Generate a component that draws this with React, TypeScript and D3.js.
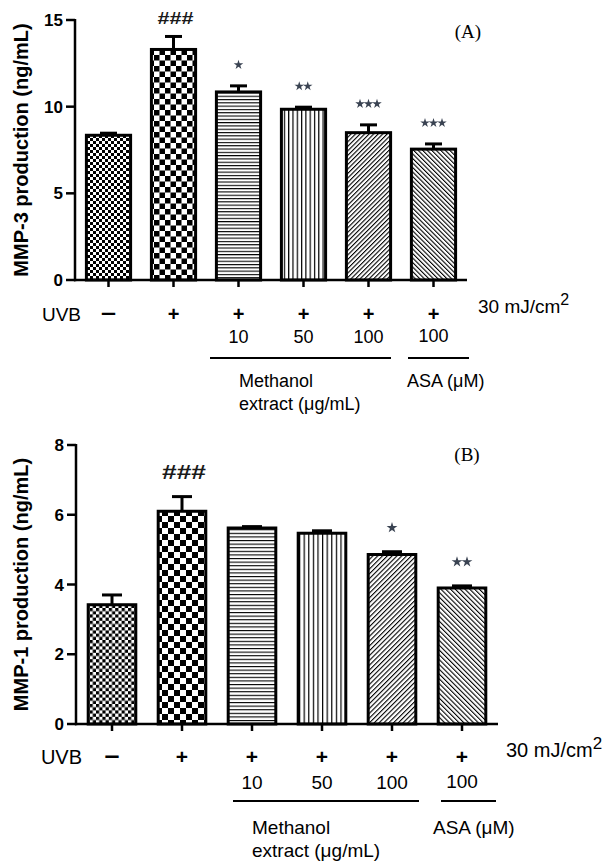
import React from "react";
import * as d3 from "d3";

// ---------- data ----------
const groups = ["Control", "UVB", "ME10", "ME50", "ME100", "ASA100"];
const uvbSigns = ["–", "+", "+", "+", "+", "+"];
const doseLabels = ["", "", "10", "50", "100", "100"];

const mmp3Values = [8.35, 13.3, 10.85, 9.85, 8.5, 7.55];
const mmp3Errors = [0.12, 0.75, 0.35, 0.12, 0.45, 0.3];
const mmp3Marks = ["", "###", "*", "**", "***", "***"];
const mmp3Ticks = [0, 5, 10, 15];

const mmp1Values = [3.42, 6.1, 5.62, 5.47, 4.86, 3.9];
const mmp1Errors = [0.28, 0.42, 0.04, 0.07, 0.08, 0.06];
const mmp1Marks = ["", "###", "", "", "*", "**"];
const mmp1Ticks = [0, 2, 4, 6, 8];

// ---------- layout ----------
type Cfg = {
  id: string;
  x0: number; x1: number; yTop: number; yBase: number; yMax: number;
  ticks: number[]; values: number[]; errors: number[]; marks: string[];
  yLabel: string; letter: string; letterX: number; letterY: number;
  fs: number; tickFs: number; labFs: number;
  capW: number; fine: number; coarse: number; hs: number; vs: number; ds: number;
  hashOff: number; hashW: number; hashFs: number; starOff: number; starSize: number; starGap: number;
  signDy: number; doseDy: number; lineDy: number; methDy: number; extDy: number; mjDy: number;
  methLine: [number, number]; asaLine: [number, number]; methX: number; asaX: number; mjX: number;
};

const cfgA: Cfg = {
  id: "a", x0: 75, x1: 467, yTop: 20, yBase: 280, yMax: 15,
  ticks: mmp3Ticks, values: mmp3Values, errors: mmp3Errors, marks: mmp3Marks,
  yLabel: "MMP-3 production (ng/mL)", letter: "(A)", letterX: 468, letterY: 38,
  fs: 18, tickFs: 17, labFs: 20,
  capW: 17, fine: 3, coarse: 5.5, hs: 3.3, vs: 4.3, ds: 3.2,
  hashOff: 12, hashW: 36, hashFs: 17, starOff: 21, starSize: 28, starGap: 8.5,
  signDy: 41, doseDy: 63, lineDy: 78, methDy: 107, extDy: 130, mjDy: 33,
  methLine: [210, 391], asaLine: [408, 469], methX: 239, asaX: 407, mjX: 478,
};

const cfgB: Cfg = {
  id: "b", x0: 76, x1: 498, yTop: 445, yBase: 724, yMax: 8,
  ticks: mmp1Ticks, values: mmp1Values, errors: mmp1Errors, marks: mmp1Marks,
  yLabel: "MMP-1 production (ng/mL)", letter: "(B)", letterX: 467, letterY: 461,
  fs: 19, tickFs: 17, labFs: 20,
  capW: 20, fine: 3.2, coarse: 6, hs: 3.6, vs: 4.6, ds: 3.4,
  hashOff: 18, hashW: 44, hashFs: 21, starOff: 24, starSize: 36, starGap: 10,
  signDy: 40, doseDy: 65, lineDy: 77, methDy: 110, extDy: 133, mjDy: 33,
  methLine: [233, 419], asaLine: [441, 496], methX: 252, asaX: 433, mjX: 506,
};

const SANS = "'Liberation Sans', Arial, Helvetica, sans-serif";
const SERIF = "'Liberation Serif', 'Times New Roman', serif";

function Patterns({ c }: { c: Cfg }) {
  const p = (i: number) => `${c.id}-p${i}`;
  return (
    <defs>
      <pattern id={p(0)} patternUnits="userSpaceOnUse" width={2 * c.fine} height={2 * c.fine}>
        <rect width={2 * c.fine} height={2 * c.fine} fill="#fff" />
        <rect width={c.fine} height={c.fine} fill="#000" />
        <rect x={c.fine} y={c.fine} width={c.fine} height={c.fine} fill="#000" />
      </pattern>
      <pattern id={p(1)} patternUnits="userSpaceOnUse" width={2 * c.coarse} height={2 * c.coarse}>
        <rect width={2 * c.coarse} height={2 * c.coarse} fill="#fff" />
        <rect width={c.coarse} height={c.coarse} fill="#000" />
        <rect x={c.coarse} y={c.coarse} width={c.coarse} height={c.coarse} fill="#000" />
      </pattern>
      <pattern id={p(2)} patternUnits="userSpaceOnUse" width={10} height={c.hs}>
        <rect width={10} height={c.hs} fill="#fff" />
        <rect width={10} height={1.1} fill="#000" />
      </pattern>
      <pattern id={p(3)} patternUnits="userSpaceOnUse" width={c.vs} height={10}>
        <rect width={c.vs} height={10} fill="#fff" />
        <rect width={1.2} height={10} fill="#000" />
      </pattern>
      <pattern id={p(4)} patternUnits="userSpaceOnUse" width={c.ds} height={c.ds} patternTransform="rotate(45)">
        <rect width={c.ds} height={c.ds} fill="#fff" />
        <rect width={1.1} height={c.ds} fill="#000" />
      </pattern>
      <pattern id={p(5)} patternUnits="userSpaceOnUse" width={c.ds} height={c.ds} patternTransform="rotate(-45)">
        <rect width={c.ds} height={c.ds} fill="#fff" />
        <rect width={1.1} height={c.ds} fill="#000" />
      </pattern>
    </defs>
  );
}

function Panel({ c }: { c: Cfg }) {
  const x = d3
    .scaleBand<string>()
    .domain(groups)
    .range([c.x0 + 1, c.x1 - 1])
    .paddingInner(0.32)
    .paddingOuter(0.16);
  const y = d3.scaleLinear().domain([0, c.yMax]).range([c.yBase, c.yTop]);
  const bw = x.bandwidth();
  const cx = (g: string) => (x(g) as number) + bw / 2;
  const star = d3.symbol().type(d3.symbolStar).size(c.starSize)() as string;
  const base = c.yBase;

  return (
    <g>
      <Patterns c={c} />
      {/* bars */}
      {groups.map((g, i) => (
        <rect
          key={g}
          x={x(g)}
          y={y(c.values[i])}
          width={bw}
          height={y(0) - y(c.values[i])}
          fill={`url(#${c.id}-p${i})`}
          stroke="#000"
          strokeWidth={3}
        />
      ))}
      {/* error bars */}
      {groups.map((g, i) => {
        const top = y(c.values[i] + c.errors[i]);
        return (
          <g key={g} stroke="#000" strokeWidth={3}>
            <line x1={cx(g)} x2={cx(g)} y1={y(c.values[i])} y2={top} />
            <line x1={cx(g) - c.capW / 2} x2={cx(g) + c.capW / 2} y1={top} y2={top} />
          </g>
        );
      })}
      {/* significance marks */}
      {groups.map((g, i) => {
        const m = c.marks[i];
        if (!m) return null;
        const top = y(c.values[i] + c.errors[i]);
        if (m.startsWith("#")) {
          return (
            <text
              key={g}
              x={cx(g) + 2}
              y={top - c.hashOff}
              textAnchor="middle"
              fontFamily={SANS}
              fontSize={c.hashFs}
              fontWeight="bold"
              textLength={c.hashW}
              lengthAdjust="spacingAndGlyphs"
              fill="#1a1a1a"
            >
              {m}
            </text>
          );
        }
        const n = m.length;
        return (
          <g key={g} fill="#3a4352">
            {d3.range(n).map((k) => (
              <path
                key={k}
                d={star}
                transform={`translate(${cx(g) + (k - (n - 1) / 2) * c.starGap},${top - c.starOff})`}
              />
            ))}
          </g>
        );
      })}
      {/* axes */}
      <g stroke="#000" strokeWidth={2.5} fill="none">
        <line x1={c.x0} x2={c.x0} y1={y(c.yMax) - 1} y2={base + 1.25} />
        <line x1={c.x0 - 1} x2={c.x1} y1={base} y2={base} />
        {c.ticks.map((t) => (
          <line key={t} x1={c.x0 - 9} x2={c.x0} y1={y(t)} y2={y(t)} />
        ))}
        {groups.map((g) => (
          <line key={g} x1={cx(g)} x2={cx(g)} y1={base} y2={base + 7} />
        ))}
      </g>
      {c.ticks.map((t) => (
        <text
          key={t}
          x={c.x0 - 12}
          y={y(t) + 6}
          textAnchor="end"
          fontFamily={SANS}
          fontWeight="bold"
          fontSize={c.tickFs}
        >
          {t}
        </text>
      ))}
      <text
        transform={`translate(28,${(c.yTop + c.yBase) / 2}) rotate(-90)`}
        textAnchor="middle"
        fontFamily={SANS}
        fontWeight="bold"
        fontSize={c.labFs}
      >
        {c.yLabel}
      </text>
      <text x={c.letterX} y={c.letterY} textAnchor="middle" fontFamily={SERIF} fontSize={19}>
        {c.letter}
      </text>
      {/* treatment rows */}
      <text x={c.x0 + 6} y={base + c.signDy} textAnchor="end" fontFamily={SANS} fontSize={c.fs + 1}>
        UVB
      </text>
      {groups.map((g, i) =>
        uvbSigns[i] === "+" ? (
          <text key={g} x={cx(g)} y={base + c.signDy} textAnchor="middle" fontFamily={SANS} fontWeight="bold" fontSize={c.fs + 2}>
            +
          </text>
        ) : (
          <text
            key={g}
            x={cx(g) - 7.5}
            y={base + c.signDy - 1}
            fontFamily={SANS}
            fontWeight="bold"
            fontSize={c.fs + 4}
            textLength={15}
            lengthAdjust="spacingAndGlyphs"
          >
            {uvbSigns[i]}
          </text>
        )
      )}
      {groups.map((g, i) =>
        doseLabels[i] ? (
          <text key={g} x={cx(g)} y={base + c.doseDy - (i === 5 ? 1 : 0)} textAnchor="middle" fontFamily={SANS} fontSize={c.fs}>
            {doseLabels[i]}
          </text>
        ) : null
      )}
      <text x={c.mjX} y={base + c.mjDy} fontFamily={SANS} fontSize={c.fs + 1}>
        30 mJ/cm<tspan dy={-8} fontSize={c.fs - 2}>2</tspan>
      </text>
      <g stroke="#000" strokeWidth={2}>
        <line x1={c.methLine[0]} x2={c.methLine[1]} y1={base + c.lineDy} y2={base + c.lineDy} />
        <line x1={c.asaLine[0]} x2={c.asaLine[1]} y1={base + c.lineDy} y2={base + c.lineDy} />
      </g>
      <text x={c.methX} y={base + c.methDy} fontFamily={SANS} fontSize={c.fs}>
        Methanol
      </text>
      <text x={c.methX} y={base + c.extDy} fontFamily={SANS} fontSize={c.fs}>
        extract (μg/mL)
      </text>
      <text x={c.asaX} y={base + c.methDy} fontFamily={SANS} fontSize={c.fs}>
        ASA (μM)
      </text>
    </g>
  );
}

export default function App() {
  return (
    <svg
      width={615}
      height={867}
      viewBox="0 0 615 867"
      style={{ position: "absolute", left: 0, top: 0, background: "#fff" }}
    >
      <rect width={615} height={867} fill="#fff" />
      <Panel c={cfgA} />
      <Panel c={cfgB} />
    </svg>
  );
}
